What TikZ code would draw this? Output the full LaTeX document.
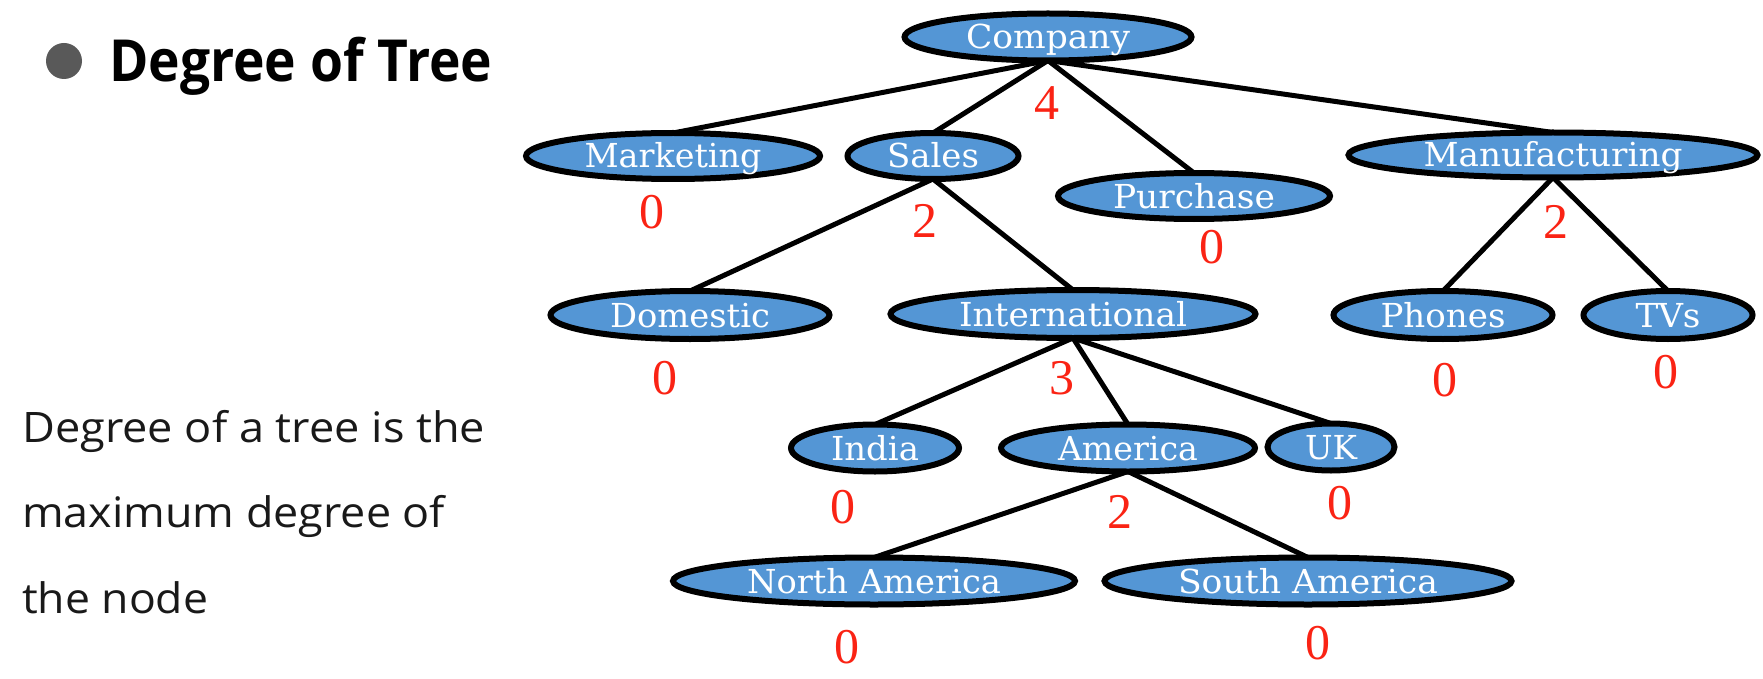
\documentclass[tikz,border=0pt]{standalone}
\usepackage{fontspec}
\usepackage{graphicx}
\usetikzlibrary{shapes.geometric,backgrounds}
\setmainfont{DejaVu Serif}
\newfontfamily\uifont{Open Sans}
\newfontfamily\digitfont{Liberation Serif}
\newfontfamily\nodefont{DejaVu Serif}
\definecolor{nodeblue}{RGB}{84,150,213}
\definecolor{degred}{RGB}{250,35,20}
\definecolor{bulletgray}{RGB}{89,89,89}
\newcommand{\hsq}[2]{\resizebox{#1pt}{\height}{#2}}
\tikzset{
  tnode/.style={ellipse, draw=black, line width=6pt, fill=nodeblue, text=white,
    inner sep=0pt, outer sep=0pt, text height=24pt, text depth=0pt,
    font=\nodefont\fontsize{33}{40}\selectfont},
  deg/.style={text=degred, inner sep=0pt, font=\digitfont\fontsize{50}{58}\selectfont},
  link/.style={line width=5pt, black},
  bodytext/.style={inner sep=0pt, anchor=base west, text=black!90, font=\uifont\fontsize{42}{50}\selectfont},
}
\begin{document}
\begin{tikzpicture}[x=1pt,y=-1pt]
\useasboundingbox (0,0) rectangle (1763,679);
% title
\node[circle, fill=bulletgray, minimum size=36pt, inner sep=0pt] (bullet) at (64,61) {};
\node[inner sep=0pt, anchor=base west, font=\uifont\bfseries\fontsize{58}{66}\selectfont] (title) at (109,82) {\hsq{383}{Degree of Tree}};
% body text
\node[bodytext] (body1) at (22,442) {\hsq{463}{Degree of a tree is the}};
\node[bodytext] (body2) at (22,527) {\hsq{423}{maximum degree of}};
\node[bodytext] (body3) at (22,613) {\hsq{186}{the node}};
% tree nodes
\node[tnode, minimum width=287pt, minimum height=47pt] (company) at (1048,37) {\hsq{164}{Company}};
\node[tnode, minimum width=294pt, minimum height=46pt] (marketing) at (673,156) {\hsq{177}{Marketing}};
\node[tnode, minimum width=171pt, minimum height=46pt] (sales) at (933,156) {\hsq{92}{Sales}};
\node[tnode, minimum width=272pt, minimum height=46pt] (purchase) at (1194,196) {\hsq{162}{Purchase}};
\node[tnode, minimum width=409pt, minimum height=45pt] (manufacturing) at (1553,155) {\hsq{259}{Manufacturing}};
\node[tnode, minimum width=279pt, minimum height=48pt] (domestic) at (690,315) {\hsq{160}{Domestic}};
\node[tnode, minimum width=365pt, minimum height=48pt] (international) at (1073,314) {\hsq{228}{International}};
\node[tnode, minimum width=219pt, minimum height=48pt] (phones) at (1443,315) {\hsq{125}{Phones}};
\node[tnode, minimum width=169pt, minimum height=48pt] (tvs) at (1668,315) {\hsq{65}{TVs}};
\node[tnode, minimum width=168pt, minimum height=47pt] (india) at (875,448) {\hsq{88}{India}};
\node[tnode, minimum width=254pt, minimum height=47pt] (america) at (1128,448) {\hsq{140}{America}};
\node[tnode, minimum width=127pt, minimum height=47pt] (uk) at (1331,447) {\hsq{52}{UK}};
\node[tnode, minimum width=402pt, minimum height=47pt] (northamerica) at (874,581) {\hsq{254}{North America}};
\node[tnode, minimum width=407pt, minimum height=47pt] (southamerica) at (1308,581) {\hsq{260}{South America}};
% degrees
\node[deg] (dcompany) at (1047,103) {4};
\node[deg] (dmarketing) at (652,212) {0};
\node[deg] (dsales) at (925,221) {2};
\node[deg] (dpurchase) at (1212,247) {0};
\node[deg] (dmanufacturing) at (1556,222) {2};
\node[deg] (ddomestic) at (665,378) {0};
\node[deg] (dinternational) at (1062,378) {3};
\node[deg] (dphones) at (1445,380) {0};
\node[deg] (dtvs) at (1666,372) {0};
\node[deg] (dindia) at (843,507) {0};
\node[deg] (damerica) at (1120,512) {2};
\node[deg] (duk) at (1340,503) {0};
\node[deg] (dnorthamerica) at (847,647) {0};
\node[deg] (dsouthamerica) at (1318,643) {0};
% connectors
\begin{scope}[on background layer]
\draw[link] (company.south) -- (marketing.north);
\draw[link] (company.south) -- (sales.north);
\draw[link] (company.south) -- (purchase.north);
\draw[link] (company.south) -- (manufacturing.north);
\draw[link] (sales.south) -- (domestic.north);
\draw[link] (sales.south) -- (international.north);
\draw[link] (manufacturing.south) -- (phones.north);
\draw[link] (manufacturing.south) -- (tvs.north);
\draw[link] (international.south) -- (india.north);
\draw[link] (international.south) -- (america.north);
\draw[link] (international.south) -- (uk.north);
\draw[link] (america.south) -- (northamerica.north);
\draw[link] (america.south) -- (southamerica.north);
\end{scope}
\end{tikzpicture}
\end{document}
